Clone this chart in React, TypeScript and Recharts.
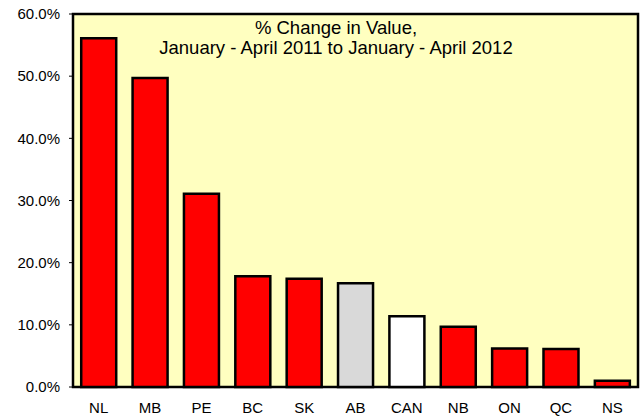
import { BarChart, Bar, XAxis, YAxis, Cell, CartesianGrid, ReferenceArea } from 'recharts';

const provinces = ['NL', 'MB', 'PE', 'BC', 'SK', 'AB', 'CAN', 'NB', 'ON', 'QC', 'NS'];
const pctChange = [56.1, 49.7, 31.1, 17.8, 17.4, 16.7, 11.4, 9.7, 6.2, 6.1, 1.0];
const yTicks = [0, 10, 20, 30, 40, 50, 60];

const titleLines = ['% Change in Value,', 'January - April 2011 to January - April 2012'];

const FONT = 'Arial, "Liberation Sans", sans-serif';

// AB is shaded grey, the national total is left white, everything else red
const barColor = (name: string) => {
  if (name === 'AB') return '#d9d9d9';
  if (name === 'CAN') return '#ffffff';
  return '#ff0000';
};

const data = provinces.map((p, i) => ({ name: p, value: pctChange[i] }));

export default function App() {
  return (
    <div style={{ position: 'absolute', left: 0, top: 0, width: 641, height: 418, background: '#fff', fontFamily: FONT }}>
      <BarChart
        width={641}
        height={418}
        data={data}
        margin={{ top: 14, right: 3, bottom: 0, left: 13 }}
        barCategoryGap="16%"
      >
        <CartesianGrid horizontal={false} vertical={false} fill="#ffffc0" fillOpacity={1} />
        <XAxis
          dataKey="name"
          height={31}
          tickLine={false}
          axisLine={{ stroke: '#000', strokeWidth: 2 }}
          tick={{ fill: '#000', fontSize: 15, fontFamily: FONT }}
          tickMargin={9}
        />
        <YAxis
          width={60}
          domain={[0, 60]}
          ticks={yTicks}
          interval={0}
          tickFormatter={(v: number) => `${v.toFixed(1)}%`}
          axisLine={{ stroke: '#000', strokeWidth: 2 }}
          tickLine={{ stroke: '#000' }}
          tickSize={4}
          tickMargin={9}
          tick={{ fill: '#000', fontSize: 15, fontFamily: FONT }}
        />
        <Bar dataKey="value" stroke="#000" strokeWidth={2.5} isAnimationActive={false}>
          {data.map((d) => (
            <Cell key={d.name} fill={barColor(d.name)} />
          ))}
        </Bar>
        <ReferenceArea y1={0} y2={60} fill="none" stroke="#000" strokeWidth={2.5} />
      </BarChart>

      {/* chart title sits inside the plot area */}
      <div
        style={{
          position: 'absolute',
          left: 136,
          top: 18,
          width: 400,
          textAlign: 'center',
          fontSize: 18.5,
          lineHeight: '20px',
          color: '#000',
          pointerEvents: 'none',
        }}
      >
        {titleLines.map((t) => (
          <div key={t}>{t}</div>
        ))}
      </div>
    </div>
  );
}
